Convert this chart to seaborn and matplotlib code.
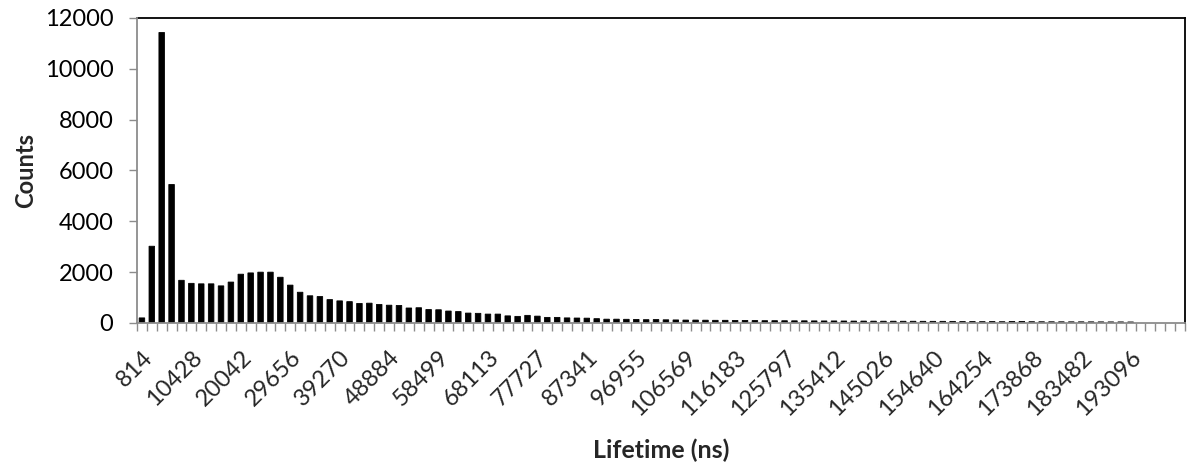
import matplotlib
matplotlib.use("Agg")
import matplotlib.pyplot as plt
import seaborn as sns
import pandas as pd
from matplotlib.ticker import FixedLocator

# Lifetime histogram: 106 bins, labels shown on every 5th bin
tick_labels = ["814", "10428", "20042", "29656", "39270", "48884", "58499",
               "68113", "77727", "87341", "96955", "106569", "116183",
               "125797", "135412", "145026", "154640", "164254", "173868",
               "183482", "193096"]

counts = [
    200, 3020, 11430, 5450, 1680, 1560, 1540, 1540, 1460, 1610,
    1920, 1970, 2000, 2000, 1800, 1490, 1210, 1070, 1040, 920,
    870, 840, 770, 780, 730, 700, 690, 590, 600, 530,
    520, 470, 450, 390, 380, 350, 350, 280, 260, 300,
    270, 220, 220, 200, 195, 190, 170, 150, 150, 145,
    140, 130, 135, 125, 120, 115, 115, 110, 105, 105,
    100, 100, 95, 90, 90, 88, 85, 85, 82, 80,
    80, 78, 75, 75, 72, 70, 70, 68, 68, 66,
    65, 65, 63, 55, 55, 52, 55, 50, 60, 62,
    50, 48, 47, 46, 45, 45, 44, 43, 42, 42,
    40, 0, 0, 0, 0, 0,
]

bins = list(range(len(counts)))
df = pd.DataFrame({"bin": bins, "count": counts})

sns.set_theme(style="white")
plt.rcParams["font.family"] = ["Lato", "DejaVu Sans"]

fig = plt.figure(figsize=(11.87, 4.65), dpi=100)
ax = fig.add_axes([0.1154, 0.3054, 0.8829, 0.6559])

sns.barplot(data=df, x="bin", y="count", order=bins, color="black",
            width=0.56, saturation=1, ax=ax)
for p, v in zip(ax.patches, counts):
    # thin outline keeps the low tail bars visible as short dashes
    p.set_edgecolor("black" if v > 0 else "none")
    p.set_linewidth(0.6)
    p.set_snap(False)

ax.set_xlim(-0.5, len(counts) - 0.5)
ax.set_ylim(0, 12000)

# y axis
ax.set_yticks(range(0, 12001, 2000))
ax.set_yticklabels([str(v) for v in range(0, 12001, 2000)], fontsize=17)
ax.tick_params(axis="y", which="major", direction="out", length=6,
               width=1, colors="#8c8c8c", pad=11, left=True,
               labelcolor="black")

# x axis: labels on every 5th bin, tick marks on bin boundaries
label_pos = list(range(0, 5 * len(tick_labels), 5))
ax.set_xticks(label_pos)
ax.set_xticklabels(tick_labels, rotation=45, ha="right",
                   rotation_mode="anchor", fontsize=17)
ax.xaxis.set_minor_locator(FixedLocator([i - 0.5 for i in range(len(counts) + 1)]))
ax.tick_params(axis="x", which="major", length=0, pad=17, bottom=True)
ax.tick_params(axis="x", which="minor", direction="out", length=6,
               width=1, color="#8c8c8c", bottom=True)

for side in ("top", "right"):
    ax.spines[side].set_color("black")
    ax.spines[side].set_linewidth(1.3)
for side in ("left", "bottom"):
    ax.spines[side].set_color("#8c8c8c")
    ax.spines[side].set_linewidth(1.3)
    ax.spines[side].set_zorder(5)

ax.set_xlabel("")
ax.set_ylabel("")
fig.text(0.022, (0.3054 + 0.9613) / 2, "Counts", rotation=90, ha="center",
         va="center", fontsize=17, fontweight="bold")
fig.text((137 + 1185) / 2 / 1187, 1 - 450 / 465, "Lifetime (ns)",
         ha="center", va="center", fontsize=18, fontweight="bold")

fig.savefig("out.png", dpi=100)
